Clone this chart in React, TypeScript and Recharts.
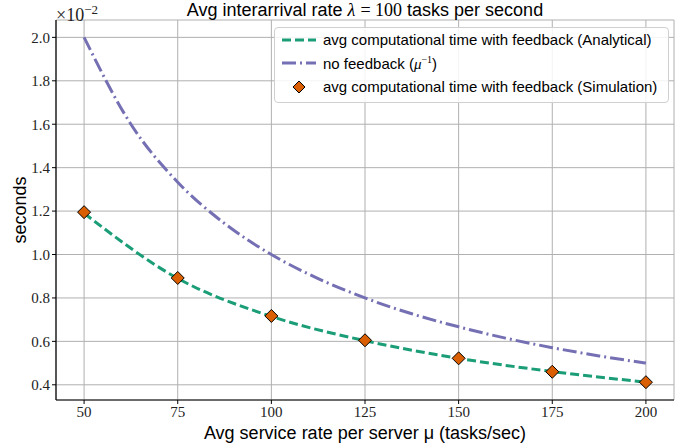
import { ComposedChart, Line, Scatter, XAxis, YAxis, CartesianGrid } from "recharts";

const MU_TICKS = [50, 75, 100, 125, 150, 175, 200];
const Y_TICKS = [0.4, 0.6, 0.8, 1.0, 1.2, 1.4, 1.6, 1.8, 2.0];

// avg computational time with feedback, x10^-2 s
const SIM_MU = [50, 75, 100, 125, 150, 175, 200];
const SIM_TIME = [1.195, 0.892, 0.717, 0.605, 0.522, 0.46, 0.412];
const ANALYTICAL_TIME = [1.19, 0.89, 0.715, 0.603, 0.522, 0.461, 0.412];

// no feedback (mu^-1)
const NOFB_MU = [50, 62.5, 75, 87.5, 100, 112.5, 125, 137.5, 150, 162.5, 175, 187.5, 200];
const NOFB_TIME = [2.0, 1.6, 1.333, 1.143, 1.0, 0.889, 0.8, 0.727, 0.667, 0.615, 0.571, 0.533, 0.5];

const GREEN = "#1b9e77";
const PURPLE = "#7570b3";
const ORANGE = "#d95f02";

const simData = SIM_MU.map((mu, i) => ({ mu, t: SIM_TIME[i] }));
const analyticalData = SIM_MU.map((mu, i) => ({ mu, t: ANALYTICAL_TIME[i] }));
const noFbData = NOFB_MU.map((mu, i) => ({ mu, t: NOFB_TIME[i] }));

const SERIF = "'Liberation Serif', 'DejaVu Serif', serif";
const SANS = "'Liberation Sans', Arial, sans-serif";

const Diamond = (props: any) => {
  const { cx, cy } = props;
  if (cx == null || cy == null) return null;
  const r = 6.5;
  return (
    <polygon
      points={`${cx},${cy - r} ${cx + r},${cy} ${cx},${cy + r} ${cx - r},${cy}`}
      fill={ORANGE}
      stroke="#000"
      strokeWidth={1}
    />
  );
};

function LegendBox() {
  const row = { display: "flex", alignItems: "center", height: 23.5 } as const;
  return (
    <div
      style={{
        position: "absolute",
        left: 274,
        top: 27,
        width: 395,
        height: 76,
        border: "1px solid #d0d0d0",
        borderRadius: 4,
        background: "rgba(255,255,255,0.85)",
        boxSizing: "border-box",
        padding: "0 0 0 4px",
        fontFamily: SANS,
        fontSize: 15,
        color: "#000",
      }}
    >
      <div style={row}>
        <svg width={44} height={12}>
          <line x1={3} x2={37} y1={6} y2={6} stroke={GREEN} strokeWidth={3} strokeDasharray="9 4" />
        </svg>
        <span>avg computational time with feedback (Analytical)</span>
      </div>
      <div style={row}>
        <svg width={44} height={12}>
          <line x1={3} x2={37} y1={6} y2={6} stroke={PURPLE} strokeWidth={3} strokeDasharray="14 4 2 4" />
        </svg>
        <span>
          no feedback (<span style={{ fontFamily: SERIF, fontStyle: "italic" }}>μ</span>
          <sup style={{ fontFamily: SERIF, fontSize: 10 }}>−1</sup>)
        </span>
      </div>
      <div style={row}>
        <svg width={44} height={16}>
          <polygon points="20,2 26,8 20,14 14,8" fill={ORANGE} stroke="#000" strokeWidth={1} />
        </svg>
        <span>avg computational time with feedback (Simulation)</span>
      </div>
    </div>
  );
}

export default function App() {
  return (
    <div style={{ position: "absolute", left: 0, top: 0, width: 689, height: 447, background: "#fff" }}>
      <ComposedChart
        width={689}
        height={447}
        margin={{ top: 20, right: 15, bottom: 0, left: 0 }}
      >
        <CartesianGrid stroke="#b0b0b0" strokeWidth={1} />
        <XAxis
          type="number"
          dataKey="mu"
          domain={[42.5, 207.5]}
          ticks={MU_TICKS}
          allowDataOverflow
          height={47}
          tickSize={4}
          tickLine={{ stroke: "#000" }}
          axisLine={{ stroke: "#000", strokeWidth: 1.2 }}
          tick={{ fontFamily: SERIF, fontSize: 15, fill: "#222" }}
          label={{
            value: "Avg service rate per server μ (tasks/sec)",
            position: "insideBottom",
            offset: 8,
            style: { fontFamily: SANS, fontSize: 18, fill: "#000" },
          }}
        />
        <XAxis
          xAxisId="top"
          type="number"
          orientation="top"
          domain={[42.5, 207.5]}
          height={0}
          tick={false}
          tickLine={false}
          axisLine={{ stroke: "#000", strokeWidth: 1.2 }}
        />
        <YAxis
          type="number"
          domain={[0.33, 2.08]}
          ticks={Y_TICKS}
          allowDataOverflow
          width={56}
          tickSize={4}
          tickLine={{ stroke: "#000" }}
          axisLine={{ stroke: "#000", strokeWidth: 1.2 }}
          tickFormatter={(v: number) => v.toFixed(1)}
          tick={{ fontFamily: SERIF, fontSize: 15, fill: "#222" }}
          label={{
            value: "seconds",
            angle: -90,
            position: "insideLeft",
            offset: 20,
            style: { fontFamily: SANS, fontSize: 18, fill: "#000", textAnchor: "middle" },
          }}
        />
        <YAxis
          yAxisId="right"
          orientation="right"
          domain={[0.33, 2.08]}
          width={0}
          tick={false}
          tickLine={false}
          axisLine={{ stroke: "#000", strokeWidth: 1.2 }}
        />
        <Line
          data={analyticalData}
          dataKey="t"
          type="monotone"
          stroke={GREEN}
          strokeWidth={3}
          strokeDasharray="9 4"
          dot={false}
          activeDot={false}
          isAnimationActive={false}
        />
        <Line
          data={noFbData}
          dataKey="t"
          type="monotone"
          stroke={PURPLE}
          strokeWidth={3}
          strokeDasharray="14 4 2 4"
          dot={false}
          activeDot={false}
          isAnimationActive={false}
        />
        <Scatter data={simData} dataKey="t" shape={Diamond} isAnimationActive={false} />
      </ComposedChart>
      <div
        style={{
          position: "absolute",
          left: 0,
          width: 730,
          top: 0,
          textAlign: "center",
          fontFamily: SANS,
          fontSize: 18,
          lineHeight: "20px",
        }}
      >
        Avg interarrival rate <span style={{ fontFamily: SERIF, fontStyle: "italic" }}>λ</span>{" "}
        <span style={{ fontFamily: SERIF }}>= 100</span> tasks per second
      </div>
      <div
        style={{
          position: "absolute",
          left: 56,
          top: -1,
          fontFamily: SERIF,
          fontSize: 18,
          lineHeight: "22px",
          color: "#222",
        }}
      >
        ×10<sup style={{ fontSize: 13, verticalAlign: "7px" }}>−2</sup>
      </div>
      <LegendBox />
    </div>
  );
}
